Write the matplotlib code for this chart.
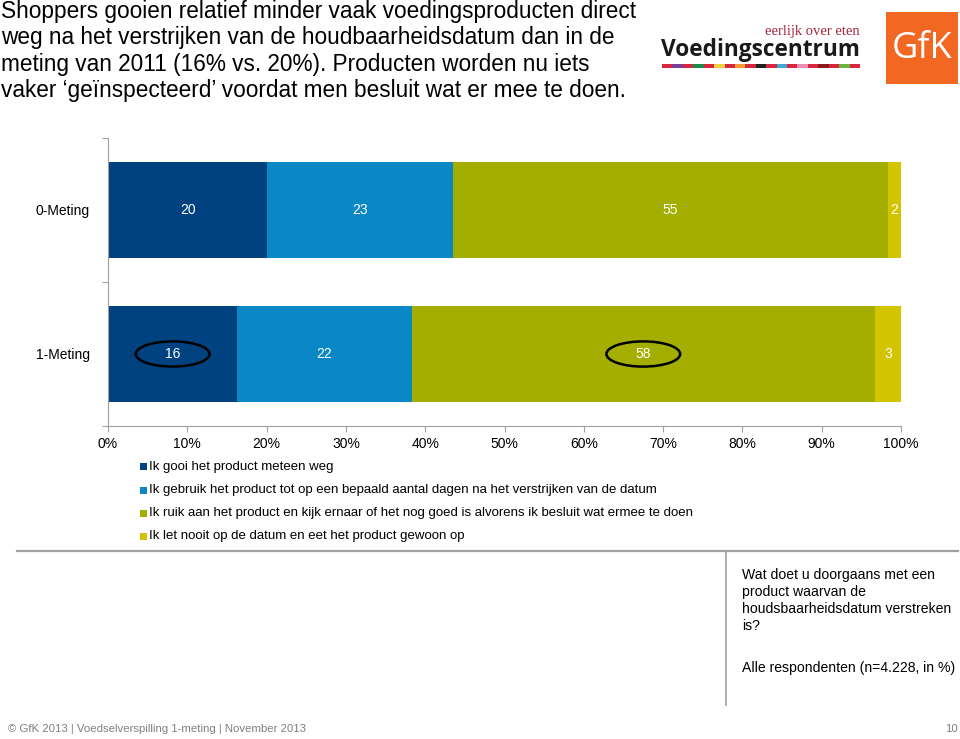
import matplotlib
matplotlib.use('Agg')
import matplotlib.pyplot as plt
from matplotlib.patches import Rectangle, Ellipse
import numpy as np

plt.rcParams['font.family'] = ['Liberation Sans', 'DejaVu Sans']

# ---------------- data ----------------
categories = ['0-Meting', '1-Meting']
series_names = [
    'Ik gooi het product meteen weg',
    'Ik gebruik het product tot op een bepaald aantal dagen na het verstrijken van de datum',
    'Ik ruik aan het product en kijk ernaar of het nog goed is alvorens ik besluit wat ermee te doen',
    'Ik let nooit op de datum en eet het product gewoon op',
]
gooi_weg = [20.1, 16.3]
gebruik_dagen = [23.4, 22.0]
ruik_kijk = [54.9, 58.4]
let_nooit = [1.6, 3.3]
series_values = [gooi_weg, gebruik_dagen, ruik_kijk, let_nooit]
series_colors = ['#00427F', '#0A88C6', '#A3AE00', '#D2C500']
x_ticks = [0, 10, 20, 30, 40, 50, 60, 70, 80, 90, 100]
x_tick_labels = ['0%', '10%', '20%', '30%', '40%', '50%', '60%', '70%', '80%', '90%', '100%']
# (category index, series index) of circled values
highlighted = [(1, 0), (1, 2)]

title_lines = [
    'Shoppers gooien relatief minder vaak voedingsproducten direct',
    'weg na het verstrijken van de houdbaarheidsdatum dan in de',
    'meting van 2011 (16% vs. 20%). Producten worden nu iets',
    'vaker \u2018ge\u00efnspecteerd\u2019 voordat men besluit wat er mee te doen.',
]
question_lines = [
    'Wat doet u doorgaans met een',
    'product waarvan de',
    'houdsbaarheidsdatum verstreken',
    'is?',
]
base_text = 'Alle respondenten (n=4.228, in %)'
footer_text = '\u00a9 GfK 2013 | Voedselverspilling 1-meting | November 2013'
page_number = '10'
stripe_colors = ['#D7263D', '#7B3F98', '#D7263D', '#1E8C4E', '#D7263D', '#F4D03F',
                 '#D7263D', '#F39C34', '#D7263D', '#222222', '#D7263D', '#3FA9D8',
                 '#D7263D', '#EE8FB8', '#D7263D', '#8B1A1A', '#D7263D', '#6DB33F',
                 '#D7263D']

# ---------------- figure ----------------
W, H = 960, 739
fig = plt.figure(figsize=(W / 100, H / 100), dpi=100)
fig.patch.set_facecolor('white')


def fx(x):
    return x / W


def fy(y):
    return 1 - y / H


ax_l, ax_r, ax_t, ax_b = 108, 901, 138, 426
ax = fig.add_axes([fx(ax_l), fy(ax_b), (ax_r - ax_l) / W, (ax_b - ax_t) / H])

ypos = np.arange(len(categories))[::-1]  # 0-Meting at top
bar_h = 2 / 3
left = np.zeros(len(categories))
centers = []
for vals, col in zip(series_values, series_colors):
    vals = np.array(vals)
    ax.barh(ypos, vals, left=left, height=bar_h, color=col, edgecolor='none')
    c = left + vals / 2
    centers.append(c)
    for yi, xc, v in zip(ypos, c, vals):
        ax.text(xc, yi, f'{v:.0f}', color='white', ha='center', va='center', fontsize=10)
    left = left + vals

for ci, si in highlighted:
    ax.add_patch(Ellipse((centers[si][ci], ypos[ci]), width=9.3, height=0.175,
                         facecolor='none', edgecolor='black', lw=1.8, zorder=5))

ax.set_xlim(0, 100)
ax.set_ylim(-0.5, 1.5)
ax.set_xticks(x_ticks)
ax.set_xticklabels(x_tick_labels, fontsize=10)
ax.set_yticks(ypos)
ax.set_yticklabels(categories, fontsize=10)
ax.set_yticks([-0.5, 0.5, 1.5], minor=True)
ax.tick_params(axis='y', which='major', length=0, pad=13)
ax.tick_params(axis='y', which='minor', length=4, color='#A0A0A0', width=0.8)
ax.tick_params(axis='x', which='major', length=4, color='#A0A0A0', width=0.8, pad=4)
for s in ['top', 'right']:
    ax.spines[s].set_visible(False)
for s in ['left', 'bottom']:
    ax.spines[s].set_color('#A0A0A0')
    ax.spines[s].set_linewidth(0.8)

# ---------------- legend ----------------
leg_y = [467, 490, 513, 536]
for name, col, y in zip(series_names, series_colors, leg_y):
    fig.patches.append(Rectangle((fx(140), fy(y + 3.5)), 7 / W, 7 / H, transform=fig.transFigure,
                                 facecolor=col, edgecolor='none'))
    fig.text(fx(149), fy(y), name, fontsize=9.5, va='center', ha='left', color='black')

# ---------------- title ----------------
for i, line in enumerate(title_lines):
    fig.text(fx(1), fy(18 + 26.3 * i), line, fontsize=16.3, va='baseline', ha='left', color='black')

# ---------------- question box ----------------
fig.add_artist(plt.Line2D([fx(17), fx(958)], [fy(551), fy(551)], transform=fig.transFigure,
                          color='#A0A0A0', lw=1.6))
fig.add_artist(plt.Line2D([fx(726), fx(726)], [fy(551), fy(705)], transform=fig.transFigure,
                          color='#A0A0A0', lw=1.2))
for i, line in enumerate(question_lines):
    fig.text(fx(742), fy(575 + 17 * i), line, fontsize=10.1, va='center', ha='left')
fig.text(fx(742), fy(668), base_text, fontsize=10.1, va='center', ha='left')

# ---------------- footer ----------------
fig.text(fx(8), fy(729), footer_text, fontsize=8.2, color='#7F7F7F', va='center', ha='left')
fig.text(fx(958), fy(729), page_number, fontsize=8.2, color='#7F7F7F', va='center', ha='right')

# ---------------- logos ----------------
fig.text(fx(860), fy(35), 'eerlijk over eten', fontsize=10.5, color='#A3263F', ha='right', va='baseline',
         family=['Liberation Serif', 'DejaVu Serif'])
fig.text(fx(661), fy(56), 'Voedingscentrum', fontsize=16.3, fontweight='bold', color='#1A1A1A',
         ha='left', va='baseline', family=['Open Sans', 'Liberation Sans', 'DejaVu Sans'])
sx0, sx1 = 662, 860
seg_w = (sx1 - sx0) / len(stripe_colors)
for i, c in enumerate(stripe_colors):
    fig.patches.append(Rectangle((fx(sx0 + i * seg_w), fy(68)), seg_w / W, 4 / H,
                                 transform=fig.transFigure, facecolor=c, edgecolor='none'))
fig.patches.append(Rectangle((fx(886), fy(84)), 72 / W, 72 / H, transform=fig.transFigure,
                             facecolor='#F26722', edgecolor='none'))
fig.text(fx(922), fy(49), 'GfK', fontsize=26, color='white', ha='center', va='center',
         family=['Open Sans', 'Liberation Sans', 'DejaVu Sans'])

fig.savefig('out.png', dpi=100, facecolor='white')
